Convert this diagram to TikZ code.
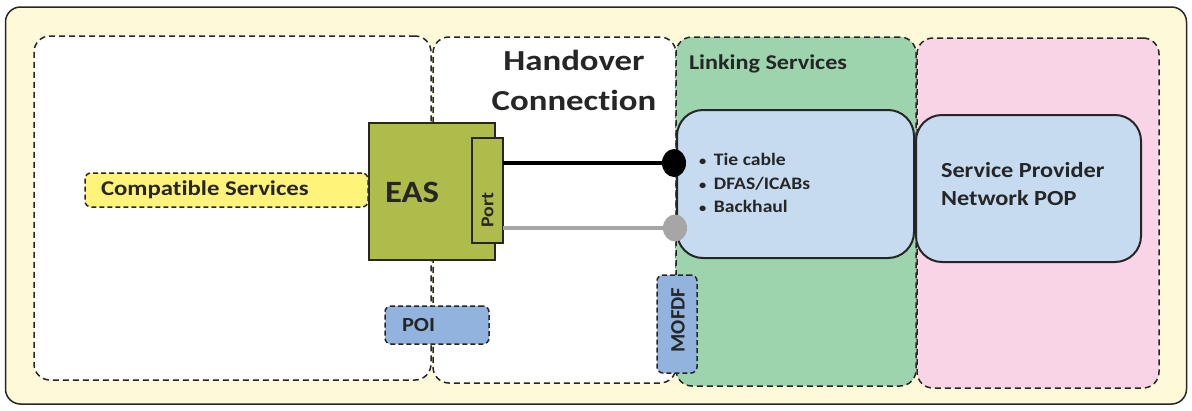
\documentclass[tikz,border=0pt]{standalone}
\usepackage{fontspec}
\setmainfont{Carlito}[Ligatures=NoCommon]
\usetikzlibrary{shapes.geometric}
\definecolor{outerfill}{HTML}{FEFAD9}
\definecolor{darkline}{HTML}{262626}
\definecolor{linkgreen}{HTML}{9DD4AD}
\definecolor{pinkfill}{HTML}{F9D4E6}
\definecolor{lightblue}{HTML}{C6DBF0}
\definecolor{midblue}{HTML}{93B3DF}
\definecolor{easgreen}{HTML}{AFBB4B}
\definecolor{compyellow}{HTML}{FFF37A}
\definecolor{linegray}{HTML}{A6A6A6}
\tikzset{
  region/.style={draw=darkline, line width=1.5pt, dash pattern=on 6pt off 4pt, rounded corners=16pt, rectangle, inner sep=0pt, outer sep=0pt},
  solidbox/.style={draw=darkline, line width=2pt, rectangle, inner sep=0pt, outer sep=0pt},
  dashbox/.style={draw=darkline, line width=1.5pt, dash pattern=on 5pt off 3pt, rounded corners=6pt, rectangle, inner sep=0pt, outer sep=0pt},
  txt/.style={inner sep=0pt, outer sep=0pt, text=darkline, font=\bfseries},
}
\begin{document}
\begin{tikzpicture}[x=1pt, y=-1pt]
\useasboundingbox (0,0) rectangle (1192,410);
% outer frame
\node[draw=darkline, line width=1.5pt, fill=outerfill, rounded corners=15pt, rectangle, minimum width=1181pt, minimum height=397pt, inner sep=0pt] (frame) at (596,205.5) {};
% regions
\node[region, fill=white, minimum width=397pt, minimum height=344pt] (leftreg) at (232.5,208) {};
\node[region, fill=white, minimum width=243pt, minimum height=346pt] (handreg) at (554.5,210) {};
\node[region, fill=linkgreen, minimum width=240pt, minimum height=349pt] (linkreg) at (796,211.5) {};
\node[region, fill=pinkfill, minimum width=242pt, minimum height=350pt] (pinkreg) at (1038,213) {};
% blue boxes
\node[solidbox, fill=lightblue, rounded corners=26pt, minimum width=237pt, minimum height=148pt] (linkbox) at (795.5,184) {};
\node[solidbox, fill=lightblue, rounded corners=26pt, minimum width=225pt, minimum height=147pt] (spbox) at (1028.5,188.5) {};
% EAS and port
\node[solidbox, fill=easgreen, minimum width=126pt, minimum height=137pt] (eas) at (432,191.5) {};
\node[solidbox, fill=easgreen, minimum width=31pt, minimum height=105pt] (port) at (487.5,190.5) {};
% small dashed boxes
\node[dashbox, fill=compyellow, minimum width=283pt, minimum height=34pt] (compat) at (226.5,190) {};
\node[dashbox, fill=midblue, minimum width=104pt, minimum height=38pt] (poi) at (437,325) {};
\node[dashbox, fill=midblue, minimum width=40pt, minimum height=98pt] (mofdf) at (677,324) {};
% connection dots (positions)
\coordinate (bdotc) at (674,163);
\coordinate (gdotc) at (675,228);
% lines
\draw[black, line width=4.5pt] (port.east |- bdotc) -- (bdotc);
\draw[linegray, line width=4.5pt] (port.east |- gdotc) -- (gdotc);
\node[ellipse, fill=black, minimum width=24pt, minimum height=28pt, inner sep=0pt] (bdot) at (bdotc) {};
\node[ellipse, fill=linegray, minimum width=24pt, minimum height=27pt, inner sep=0pt] (gdot) at (gdotc) {};
% texts
\node[txt, xscale=1.2, transform shape, font=\bfseries\fontsize{29}{40}\selectfont, align=center] (handtxt) at (574,80) {Handover\\Connection};
\node[txt, xscale=1.15, transform shape, anchor=west, font=\bfseries\fontsize{21}{24}\selectfont] (linktxt) at (689,64) {Linking Services};
\node[txt, xscale=1.12, transform shape, anchor=west, font=\bfseries\fontsize{17.5}{23.5}\selectfont, align=left] (bullets) at (699,183) {{\fontsize{13}{13}\selectfont•}\, Tie cable\\{\fontsize{13}{13}\selectfont•}\, DFAS/ICABs\\{\fontsize{13}{13}\selectfont•}\, Backhaul};
\node[txt, xscale=1.13, transform shape, anchor=west, font=\bfseries\fontsize{21.5}{28}\selectfont, align=left] (sptxt) at (941,184) {Service Provider\\Network POP};
\node[txt, xscale=1.12, transform shape, anchor=west, font=\bfseries\fontsize{31}{36}\selectfont] (eastxt) at (385,192) {EAS};
\node[txt, xscale=1.18, transform shape, anchor=west, font=\bfseries\fontsize{21}{24}\selectfont] (comptxt) at (101,190) {Compatible Services};
\node[txt, xscale=1.12, transform shape, anchor=west, font=\bfseries\fontsize{20}{24}\selectfont] (poitxt) at (402,325) {POI};
\node[txt, rotate=90, xscale=1.1, transform shape, font=\bfseries\fontsize{18}{20}\selectfont] (porttxt) at (487.5,210) {Port};
\node[txt, rotate=90, xscale=1.02, transform shape, font=\bfseries\fontsize{20.5}{24}\selectfont] (mofdftxt) at (678,320) {MOFDF};
\end{tikzpicture}
\end{document}
